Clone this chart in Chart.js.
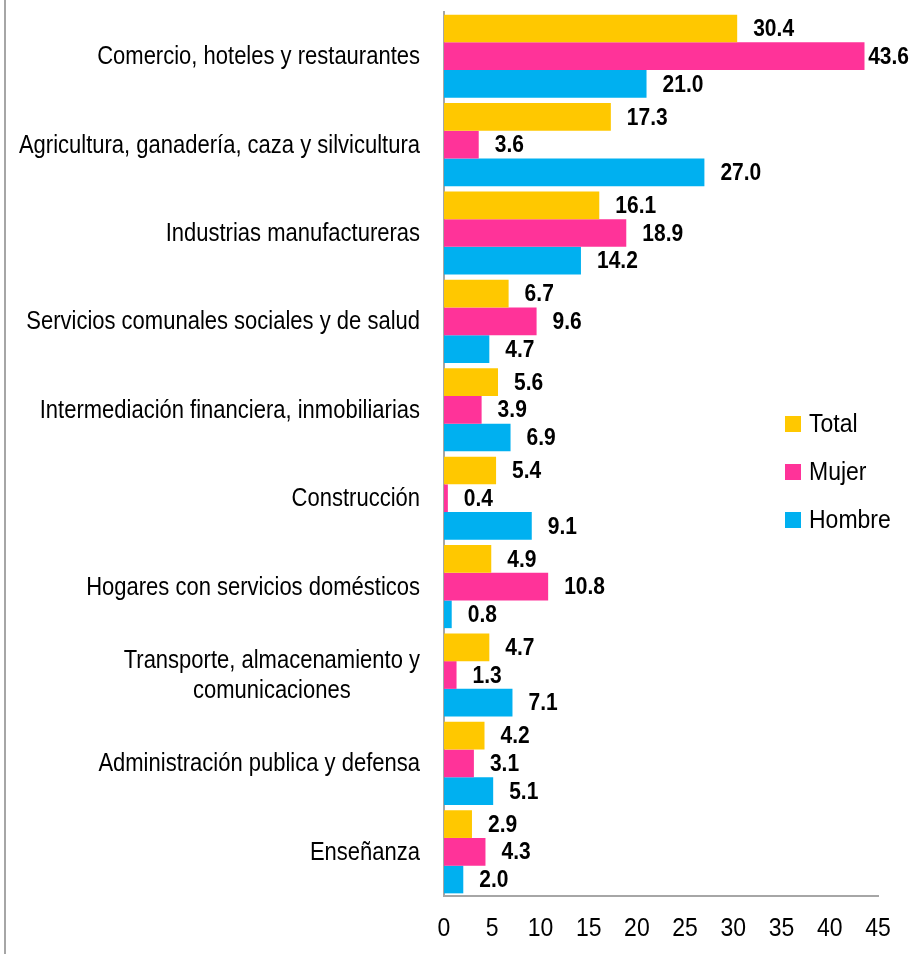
<!DOCTYPE html>
<html>
<head>
<meta charset="utf-8">
<script src="https://cdn.jsdelivr.net/npm/chart.js@4/dist/chart.umd.min.js"></script>
<style>
  html, body { margin: 0; padding: 0; background: #fff; }
  #wrap { position: relative; width: 915px; height: 954px; }
</style>
</head>
<body>
<div id="wrap"><canvas id="chart" width="915" height="954"></canvas></div>
<script>
// data
const categories = [
    'Comercio, hoteles y restaurantes',
    'Agricultura, ganadería, caza y silvicultura',
    'Industrias manufactureras',
    'Servicios comunales sociales y de salud',
    'Intermediación financiera, inmobiliarias',
    'Construcción',
    'Hogares con servicios domésticos',
    ['Transporte, almacenamiento y', 'comunicaciones'],
    'Administración publica y defensa',
    'Enseñanza'
];
const totalValues  = [30.4, 17.3, 16.1, 6.7, 5.6, 5.4, 4.9, 4.7, 4.2, 2.9];
const mujerValues  = [43.6, 3.6, 18.9, 9.6, 3.9, 0.4, 10.8, 1.3, 3.1, 4.3];
const hombreValues = [21.0, 27.0, 14.2, 4.7, 6.9, 9.1, 0.8, 7.1, 5.1, 2.0];
const seriesNames = ['Total', 'Mujer', 'Hombre'];
const seriesColors = ['#FFC800', '#FF3399', '#00B0F0'];
const xTicks = [0, 5, 10, 15, 20, 25, 30, 35, 40, 45];

const FONT = '"Liberation Sans", Arial, sans-serif';
const STRETCH = 1.14; // text in the original is a bit taller than Arial

function tallText(ctx, txt, x, y) {
    ctx.save();
    ctx.translate(x, y);
    ctx.scale(1, STRETCH);
    ctx.fillText(txt, 0, 0);
    ctx.restore();
}

// frame line on the left edge
const framePlugin = {
    id: 'frame',
    beforeDraw(chart) {
        const ctx = chart.ctx;
        ctx.save();
        ctx.strokeStyle = '#A6A6A6';
        ctx.lineWidth = 2;
        ctx.beginPath();
        ctx.moveTo(5, 0);
        ctx.lineTo(5, chart.height);
        ctx.stroke();
        ctx.restore();
    }
};

// category labels: block right-aligned to the axis, lines centred inside it
// plus the x tick labels
const axisLabels = {
    id: 'axisLabels',
    afterDraw(chart) {
        const ctx = chart.ctx;
        const yScale = chart.scales.y;
        const xScale = chart.scales.x;
        const right = chart.chartArea.left - 24;
        const lineH = 30;
        ctx.save();
        ctx.font = '22px ' + FONT;
        ctx.fillStyle = '#000';
        ctx.textBaseline = 'middle';
        ctx.textAlign = 'center';
        categories.forEach((lab, i) => {
            const lines = Array.isArray(lab) ? lab : [lab];
            const w = Math.max(...lines.map(l => ctx.measureText(l).width));
            const cx = right - w / 2;
            const y0 = yScale.getPixelForTick(i) + 1 - (lines.length - 1) * lineH / 2;
            lines.forEach((l, k) => tallText(ctx, l, cx, y0 + k * lineH));
        });
        ctx.font = '23px ' + FONT;
        xTicks.forEach(v => {
            tallText(ctx, String(v), xScale.getPixelForValue(v), chart.chartArea.bottom + 33);
        });
        ctx.restore();
    }
};

// value labels after each bar
const valueLabels = {
    id: 'valueLabels',
    afterDatasetsDraw(chart) {
        const ctx = chart.ctx;
        ctx.save();
        ctx.font = 'bold 21px ' + FONT;
        ctx.fillStyle = '#000';
        ctx.textAlign = 'left';
        ctx.textBaseline = 'middle';
        chart.data.datasets.forEach((ds, di) => {
            chart.getDatasetMeta(di).data.forEach((bar, i) => {
                const txt = ds.data[i].toFixed(1);
                const w = ctx.measureText(txt).width;
                const x = Math.min(bar.x + 16, chart.width - w - 6);
                tallText(ctx, txt, x, bar.y + 1);
            });
        });
        ctx.restore();
    }
};

// legend inside the plot, right side
const sideLegend = {
    id: 'sideLegend',
    afterDraw(chart) {
        const ctx = chart.ctx;
        ctx.save();
        ctx.font = '23px ' + FONT;
        ctx.textBaseline = 'middle';
        ctx.textAlign = 'left';
        chart.data.datasets.forEach((ds, i) => {
            const y = 424 + i * 48;
            ctx.fillStyle = ds.backgroundColor;
            ctx.fillRect(785, y - 8, 16, 16);
            ctx.fillStyle = '#000';
            tallText(ctx, ds.label, 809, y + 1);
        });
        ctx.restore();
    }
};

const ctx = document.getElementById('chart').getContext('2d');
new Chart(ctx, {
    type: 'bar',
    data: {
        labels: categories,
        datasets: [
            { label: seriesNames[0], data: totalValues,  backgroundColor: seriesColors[0] },
            { label: seriesNames[1], data: mujerValues,  backgroundColor: seriesColors[1] },
            { label: seriesNames[2], data: hombreValues, backgroundColor: seriesColors[2] }
        ]
    },
    options: {
        indexAxis: 'y',
        responsive: false,
        animation: false,
        events: [],
        datasets: {
            bar: { categoryPercentage: 0.94, barPercentage: 1.0 }
        },
        layout: { padding: { top: 12, right: 37, left: 0, bottom: 0 } },
        plugins: {
            legend: { display: false },
            tooltip: { enabled: false }
        },
        scales: {
            x: {
                min: 0,
                max: 45,
                afterFit(scale) { scale.height = 58; },
                afterBuildTicks(scale) { scale.ticks = xTicks.map(v => ({ value: v })); },
                grid: { display: false, drawTicks: false },
                border: { display: true, color: '#A6A6A6', width: 2 },
                ticks: { display: false }
            },
            y: {
                afterFit(scale) { scale.width = 444; },
                grid: { display: false, drawTicks: false },
                border: { display: true, color: '#A6A6A6', width: 2 },
                ticks: { display: false }
            }
        }
    },
    plugins: [framePlugin, axisLabels, valueLabels, sideLegend]
});
</script>
</body>
</html>
